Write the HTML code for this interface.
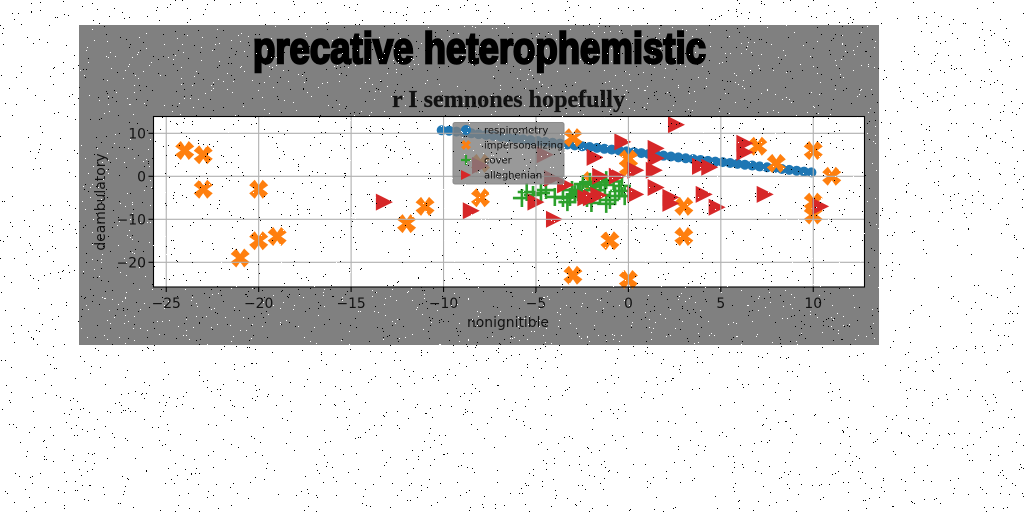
<!DOCTYPE html>
<html>
<head>
<meta charset="utf-8">
<style>
html,body{margin:0;padding:0;background:#fff;width:1024px;height:512px;overflow:hidden}
svg{display:block}
text{font-family:"DejaVu Sans",sans-serif;fill:#111}
</style>
</head>
<body>
<svg id="chart" xmlns="http://www.w3.org/2000/svg" width="1024" height="512" viewBox="0 0 1024 512">
  <rect width="1024" height="512" fill="#fff"/>
  <rect x="79" y="25" width="800" height="320" fill="#808080"/>
  <text x="253" y="63" textLength="453" lengthAdjust="spacingAndGlyphs" style="font-family:'Liberation Sans',sans-serif;font-weight:bold;font-size:44px;fill:#000;stroke:#000;stroke-width:2.4px">precative heterophemistic</text>
  <text x="392" y="107" textLength="233" lengthAdjust="spacingAndGlyphs" style="font-family:'Liberation Serif',serif;font-weight:bold;font-size:24px;fill:#111;stroke:#111;stroke-width:0.3px">r I semnones hopefully</text>
  <rect x="153.5" y="116.5" width="711" height="170.5" fill="#fff"/>
  <g id="marks"></g>
  <g id="grid"></g>
  <rect x="153.5" y="116.5" width="711" height="170.5" fill="none" stroke="#000" stroke-width="1.1"/>
  <g id="ticks"></g>
  <text x="508" y="327" text-anchor="middle" font-size="13.9">nonignitible</text>
  <text transform="translate(105,202) rotate(-90)" text-anchor="middle" font-size="13.9">deambulatory</text>
  <g id="legend">
    <rect x="453" y="122.5" width="111" height="61.5" rx="2" fill="#808080" fill-opacity="0.8" stroke="#8c8c8c" stroke-width="1"/>
    <text x="484" y="133.5" font-size="10">respirometry</text>
    <text x="484" y="148.5" font-size="10">impersonalizing</text>
    <text x="484" y="163.5" font-size="10">cover</text>
    <text x="484" y="178.5" font-size="10">alleghenian</text>
  </g>
  <path id="noise-dark" fill="#000"/>
  <path id="noise-light" fill="#fff"/>
</svg>
<script>
var xTicks = [-25, -20, -15, -10, -5, 0, 5, 10];
var yTicks = [-20, -10, 0, 10];

var respirometryX = [-10.1,-9.7,-9.3,-8.9,-8.5,-8.1,-7.7,-7.3,-6.9,-6.5,-6.1,-5.7,-5.3,-4.9,-4.5,-4.1,-3.7,-3.3,-2.9,-2.5,-2.1,-1.7,-1.3,-0.9,-0.5,-0.1,0.3,0.7,1.1,1.5,1.9,2.3,2.7,3.1,3.5,3.9,4.3,4.7,5.1,5.5,5.9,6.3,6.7,7.1,7.5,7.9,8.3,8.7,9.1,9.5,9.9];
var respirometryY = [10.7,10.6,10.4,10.2,10.0,9.8,9.6,9.4,9.2,9.0,8.8,8.6,8.4,8.2,8.0,7.8,7.6,7.4,7.2,7.0,6.8,6.6,6.4,6.2,6.0,5.8,5.6,5.4,5.2,5.0,4.8,4.6,4.4,4.2,4.0,3.8,3.6,3.4,3.3,3.1,2.9,2.7,2.5,2.3,2.1,1.9,1.7,1.5,1.3,1.1,0.9];

var impersonalizingX = [-24,-23,-23,-20,-21,-20,-19,-12,-11,-8,-8,-3,0,0,-2,-1,-3,0,3,3,7,8,10,10,10,11];
var impersonalizingY = [6,5,-3,-3,-19,-15,-14,-11,-7,-5,3,9,2,4,-1,-15,-23,-24,-7,-14,7,3,6,-6,-9,0];

var coverX = [-5.76,-5.5,-5.16,-4.73,-4.46,-3.98,-3.54,-3.16,-3.05,-2.73,-2.46,-2.24,-2.08,-1.8,-1.54,-1.27,-1,-0.72,-0.35,-0.2,-2.6,-1.9,-1.2,-3.3,-2.9,-2.0,-1.5,-0.8,-0.5,-1.2];
var coverY = [-5.05,-3.65,-4.35,-3.9,-3.2,-4.8,-5.05,-4.8,-3.2,-3.65,-1.8,-5.05,-1.3,-3.2,-4.35,-2,-5.5,-4.6,-2.25,-4.6,-3.2,-2.4,-0.9,-6,-4.2,-6.2,-1.4,-1.2,-3.4,-6.4];

var alleghenianX = [2.6,-13.2,-8.5,6.3,6.3,-0.3,1.5,1.5,-1.8,0.4,1.4,3.9,4.4,-1.5,-0.6,1.5,2.3,2.3,0.4,4.1,4.8,7.4,10.4,-4,-5,-2,-1.6,-2.3,-3.4,-4.5,-4.1,-8];
var alleghenianY = [12,-6,-8,7.7,5.6,8,6.5,4.2,4.4,1.4,1.4,2.3,2.1,0,0,-2.6,-4.9,-6.3,-4.2,-4.2,-7.2,-4.2,-7,-10,-6,-5,-4.4,-5,-2,5,-0.5,2.5];

function xScale(v){ return 628.4 + v * 18.486; }
function yScale(v){ return 176.3 - v * 4.3; }

var NS = 'http://www.w3.org/2000/svg';
var marks = document.getElementById('marks');
var grid = document.getElementById('grid');
var ticks = document.getElementById('ticks');
var legend = document.getElementById('legend');

function make(tag, attrs, parent){
  var e = document.createElementNS(NS, tag);
  for (var k in attrs) e.setAttribute(k, attrs[k]);
  parent.appendChild(e);
  return e;
}
function circlePath(x,y){ var r=5; return 'M'+(x-r)+' '+y+'a'+r+' '+r+' 0 1 0 '+(2*r)+' 0a'+r+' '+r+' 0 1 0 '+(-2*r)+' 0z'; }
function xPath(x,y,s){
  var a=s, b=s*0.58;
  return 'M'+(x-a)+' '+(y-a+b)+'L'+(x-a+b)+' '+(y-a)+'L'+x+' '+(y-a+b)+'L'+(x+a-b)+' '+(y-a)+'L'+(x+a)+' '+(y-a+b)+'L'+(x+a-b)+' '+y+'L'+(x+a)+' '+(y+a-b)+'L'+(x+a-b)+' '+(y+a)+'L'+x+' '+(y+a-b)+'L'+(x-a+b)+' '+(y+a)+'L'+(x-a)+' '+(y+a-b)+'L'+(x-a+b)+' '+y+'z';
}
function triPath(x,y,s){ return 'M'+(x-s)+' '+(y-s)+'L'+(x+s)+' '+y+'L'+(x-s)+' '+(y+s)+'z'; }
function plusPath(x,y,s){ return 'M'+(x-s)+' '+y+'H'+(x+s)+'M'+x+' '+(y-s)+'V'+(y+s); }

var i, el;
for (i = 0; i < respirometryX.length; i++) {
  el = make('path', {d: circlePath(xScale(respirometryX[i]), yScale(respirometryY[i])), fill: '#1f77b4'}, marks);
  
  
}
for (i = 0; i < impersonalizingX.length; i++) {
  el = make('path', {d: xPath(xScale(impersonalizingX[i]), yScale(impersonalizingY[i]), 9.5), fill: '#ff7f0e'}, marks);
  
  
}
for (i = 0; i < coverX.length; i++) {
  el = make('path', {d: plusPath(xScale(coverX[i]), yScale(coverY[i]), 9), fill: 'none', stroke: '#2ca02c', 'stroke-width': 2.6}, marks);
  
  
}
for (i = 0; i < alleghenianX.length; i++) {
  el = make('path', {d: triPath(xScale(alleghenianX[i]), yScale(alleghenianY[i]), 8.5), fill: '#d62728'}, marks);
  
  
}

xTicks.forEach(function(t){
  var x = xScale(t);
  var g = make('line', {x1: x, x2: x, y1: 116.5, y2: 287, stroke: '#b0b0b0', 'stroke-width': 1.1}, grid);
  
  
  var m = make('line', {x1: x, x2: x, y1: 287, y2: 292, stroke: '#000', 'stroke-width': 1.1}, ticks);
  
  
  var l = make('text', {x: x, y: 308, 'text-anchor': 'middle', 'font-size': 13.9}, ticks);
  l.textContent = String(t).replace('-', '\u2212');
  
  
});
yTicks.forEach(function(t){
  var y = yScale(t);
  var g = make('line', {x1: 153.5, x2: 864.5, y1: y, y2: y, stroke: '#b0b0b0', 'stroke-width': 1.1}, grid);
  
  
  var m = make('line', {x1: 148.5, x2: 153.5, y1: y, y2: y, stroke: '#000', 'stroke-width': 1.1}, ticks);
  
  
  var l = make('text', {x: 146, y: y + 5, 'text-anchor': 'end', 'font-size': 13.9}, ticks);
  l.textContent = String(t).replace('-', '\u2212');
  
  
});

var k1 = make('path', {d: circlePath(466, 130), fill: '#1f77b4'}, legend);


var k2 = make('path', {d: xPath(466, 145, 5), fill: '#ff7f0e'}, legend);


var k3 = make('path', {d: plusPath(466, 160, 5), fill: 'none', stroke: '#2ca02c', 'stroke-width': 2.2}, legend);


var k4 = make('path', {d: triPath(466, 175, 5), fill: '#d62728'}, legend);



/* decorative salt-and-pepper speckle covering the whole image */
var seed = 20240611;
function rnd(){ seed = (seed * 1664525 + 1013904223) >>> 0; return (seed >>> 8) / 16777216; }
var dark = [], light = [], n;
for (n = 0; n < 3200; n++) {
  dark.push('M' + Math.floor(rnd() * 1024) + ' ' + Math.floor(rnd() * 512) + 'h1v1h-1z');
  light.push('M' + Math.floor(rnd() * 1024) + ' ' + Math.floor(rnd() * 512) + 'h1v1h-1z');
}
document.getElementById('noise-dark').setAttribute('d', dark.join(''));
document.getElementById('noise-light').setAttribute('d', light.join(''));
</script>
</body>
</html>
